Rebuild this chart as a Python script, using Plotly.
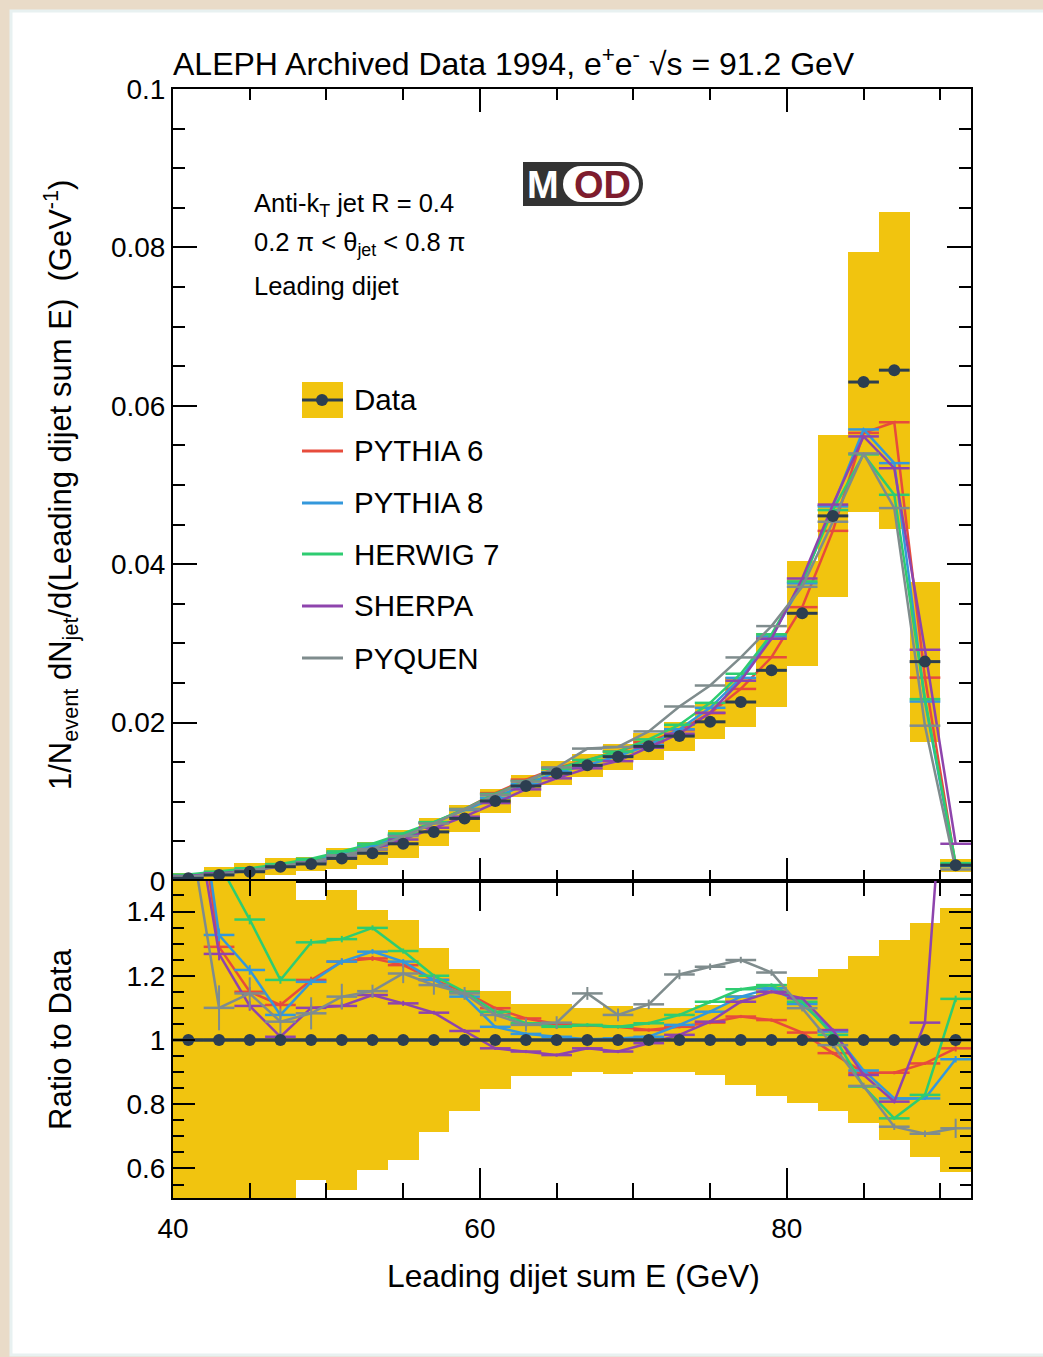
import plotly.graph_objects as go

W, H = 1043, 1357

# ---------------- data ----------------
bin_centers = [41, 43, 45, 47, 49, 51, 53, 55, 57, 59, 61, 63, 65, 67, 69,
               71, 73, 75, 77, 79, 81, 83, 85, 87, 89, 91]
bin_half_width = 1.0

data_values = [0.00034, 0.00076, 0.00117, 0.0018, 0.00215, 0.00285, 0.0035,
               0.0047, 0.0062, 0.0079, 0.0101, 0.0120, 0.0136, 0.0146, 0.0157,
               0.0170, 0.0183, 0.0201, 0.0226, 0.0266, 0.0338, 0.0461, 0.0630,
               0.0645, 0.0277, 0.0020]

data_rel_unc = [1.85, 1.40, 0.90, 0.60, 0.435, 0.467, 0.405, 0.375, 0.285,
                0.22, 0.152, 0.113, 0.113, 0.100, 0.105, 0.100, 0.100, 0.110,
                0.140, 0.175, 0.195, 0.222, 0.260, 0.310, 0.365, 0.410]

ratio_pythia6 = [1.97, 1.29, 1.15, 1.109, 1.187, 1.244, 1.254, 1.233, 1.187,
                 1.15, 1.099, 1.067, 1.05, 1.045, 1.041, 1.031, 1.041, 1.054,
                 1.073, 1.062, 1.023, 0.959, 0.898, 0.898, 0.927, 0.974]
ratio_pythia8 = [2.0, 1.327, 1.218, 1.078, 1.181, 1.244, 1.275, 1.244, 1.187,
                 1.135, 1.041, 1.019, 1.01, 1.002, 1.005, 1.01, 1.047, 1.088,
                 1.135, 1.161, 1.112, 1.026, 0.905, 0.818, 0.818, 0.94]
ratio_herwig7 = [2.4, 1.55, 1.375, 1.187, 1.304, 1.314, 1.349, 1.277, 1.2,
                 1.15, 1.088, 1.052, 1.041, 1.047, 1.041, 1.052, 1.078, 1.119,
                 1.158, 1.171, 1.119, 1.016, 0.855, 0.756, 0.829, 1.128]
ratio_sherpa = [1.84, 1.268, 1.106, 1.01, 1.10, 1.106, 1.14, 1.114, 1.085,
                1.028, 0.974, 0.964, 0.953, 0.974, 0.964, 0.99, 1.016, 1.057,
                1.119, 1.150, 1.13, 1.031, 0.891, 0.808, 1.054, 2.35]
ratio_pyquen = [1.68, 1.10, 1.145, 1.057, 1.083, 1.135, 1.152, 1.207, 1.171,
                1.145, 1.078, 1.047, 1.054, 1.145, 1.078, 1.111, 1.204, 1.228,
                1.249, 1.21, 1.099, 0.984, 0.857, 0.73, 0.708, 0.725]

err_pyquen = [0.10, 0.07, 0.05, 0.04, 0.05, 0.04, 0.02, 0.03, 0.03, 0.02,
              0.02, 0.02, 0.02, 0.02, 0.02, 0.015, 0.015, 0.01, 0.01, 0.01,
              0.01, 0.01, 0.01, 0.01, 0.01, 0.03]
err_generators = [0.05, 0.02, 0.015, 0.012, 0.01, 0.01, 0.008, 0.008, 0.006,
                  0.006, 0.005, 0.005, 0.005, 0.005, 0.005, 0.005, 0.005,
                  0.005, 0.005, 0.005, 0.005, 0.005, 0.005, 0.005, 0.005, 0.01]

model_names = ["PYTHIA 6", "PYTHIA 8", "HERWIG 7", "SHERPA", "PYQUEN"]
model_colors = ["#E74C3C", "#3498DB", "#2ECC71", "#8E44AD", "#7F8C8D"]
model_ratios = [ratio_pythia6, ratio_pythia8, ratio_herwig7, ratio_sherpa, ratio_pyquen]
model_errs = [err_generators, err_generators, err_generators, err_generators, err_pyquen]

x_ticks = [40, 60, 80]
top_y_ticks = [0, 0.02, 0.04, 0.06, 0.08, 0.1]
ratio_y_ticks = [0.6, 0.8, 1.0, 1.2, 1.4]

DATA_COLOR = "#2C3E50"
BAND_COLOR = "#F1C40F"
FONT = "Liberation Sans, Arial, Helvetica, sans-serif"


def pxx(x):
    return x / W


def pxy(y):
    return 1 - y / H


fig = go.Figure()

# ---- uncertainty bands ----
band_lo = [d * (1 - r) for d, r in zip(data_values, data_rel_unc)]
band_h = [2 * d * r for d, r in zip(data_values, data_rel_unc)]
fig.add_trace(go.Bar(x=bin_centers, y=band_h, base=band_lo, width=2 * bin_half_width,
                     marker=dict(color=BAND_COLOR, line=dict(width=0)),
                     xaxis="x", yaxis="y", showlegend=False, hoverinfo="skip"))
fig.add_trace(go.Bar(x=bin_centers, y=[2 * r for r in data_rel_unc],
                     base=[1 - r for r in data_rel_unc], width=2 * bin_half_width,
                     marker=dict(color=BAND_COLOR, line=dict(width=0)),
                     xaxis="x2", yaxis="y2", showlegend=False, hoverinfo="skip"))

# ---- generators ----
for name, col, rat, err in zip(model_names, model_colors, model_ratios, model_errs):
    mc = [d * r for d, r in zip(data_values, rat)]
    fig.add_trace(go.Scatter(
        x=bin_centers, y=mc, mode="lines", name=name,
        line=dict(color=col, width=2.5),
        error_x=dict(type="constant", value=bin_half_width, width=0, thickness=2.5, color=col),
        xaxis="x", yaxis="y", showlegend=False))
    fig.add_trace(go.Scatter(
        x=bin_centers, y=rat, mode="lines", name=name,
        line=dict(color=col, width=2.5),
        error_x=dict(type="constant", value=bin_half_width, width=0, thickness=2.5, color=col),
        error_y=dict(type="data", array=err, width=0, thickness=2, color=col),
        xaxis="x2", yaxis="y2", showlegend=False))

# ---- data ----
fig.add_trace(go.Scatter(
    x=bin_centers, y=data_values, mode="markers", name="Data",
    marker=dict(color=DATA_COLOR, size=12),
    error_x=dict(type="constant", value=bin_half_width, width=0, thickness=3, color=DATA_COLOR),
    xaxis="x", yaxis="y", showlegend=False))
fig.add_trace(go.Scatter(
    x=bin_centers, y=[d / d for d in data_values], mode="lines+markers", name="Data",
    marker=dict(color=DATA_COLOR, size=12),
    line=dict(color=DATA_COLOR, width=3),
    error_x=dict(type="constant", value=bin_half_width, width=0, thickness=3, color=DATA_COLOR),
    xaxis="x2", yaxis="y2", showlegend=False))

x_dom = [pxx(173), pxx(971)]
top_dom = [pxy(881), pxy(89)]
bot_dom = [pxy(1198), pxy(881)]

axis_common = dict(showline=True, linecolor="black", linewidth=2, mirror="allticks",
                   ticks="inside", tickcolor="black", showgrid=False, zeroline=False,
                   automargin=False,
                   tickfont=dict(size=28, color="black", family=FONT))

fig.update_layout(
    width=W, height=H, autosize=False,
    margin=dict(l=0, r=0, t=0, b=0, pad=0, autoexpand=False),
    paper_bgcolor="#E9DBC8",
    plot_bgcolor="rgba(0,0,0,0)",
    font=dict(family=FONT, color="black", size=28),
    barmode="overlay",
    bargap=0,
    xaxis=dict(domain=x_dom, range=[40, 92], anchor="y", showticklabels=False,
               tickvals=x_ticks, ticklen=23, tickwidth=2,
               minor=dict(dtick=5, tick0=40, ticklen=11, ticks="inside", tickcolor="black", tickwidth=1.5),
               **axis_common),
    yaxis=dict(domain=top_dom, range=[0, 0.1], anchor="x",
               tickvals=top_y_ticks, ticktext=["0", "0.02", "0.04", "0.06", "0.08", "0.1"],
               ticklen=24, tickwidth=2,
               minor=dict(dtick=0.005, tick0=0, ticklen=12, ticks="inside", tickcolor="black", tickwidth=1.5),
               **axis_common),
    xaxis2=dict(domain=x_dom, range=[40, 92], anchor="y2", matches="x",
                tickvals=x_ticks, ticktext=["40", "60", "80"], ticklen=30, tickwidth=2,
                ticklabelstandoff=4,
                minor=dict(dtick=5, tick0=40, ticklen=15, ticks="inside", tickcolor="black", tickwidth=1.5),
                **axis_common),
    yaxis2=dict(domain=bot_dom, range=[0.508, 1.495], anchor="x2",
                tickvals=ratio_y_ticks, ticktext=["0.6", "0.8", "1", "1.2", "1.4"],
                ticklen=22, tickwidth=2,
                minor=dict(dtick=0.05, tick0=0.5, ticklen=11, ticks="inside", tickcolor="black", tickwidth=1.5),
                **axis_common),
)

shapes = []
# white card
shapes.append(dict(type="rect", xref="paper", yref="paper", layer="below",
                   x0=pxx(11), x1=pxx(1045), y0=pxy(1355), y1=pxy(11),
                   fillcolor="white", line=dict(color="#E8F1F1", width=3)))

# MOD logo
shapes.append(dict(type="rect", xref="paper", yref="paper", x0=pxx(523), x1=pxx(621),
                   y0=pxy(206), y1=pxy(162), fillcolor="#333333", line=dict(width=0)))
shapes.append(dict(type="circle", xref="paper", yref="paper", x0=pxx(599), x1=pxx(643),
                   y0=pxy(206), y1=pxy(162), fillcolor="#333333", line=dict(width=0)))
shapes.append(dict(type="rect", xref="paper", yref="paper", x0=pxx(580), x1=pxx(622),
                   y0=pxy(202), y1=pxy(166), fillcolor="white", line=dict(width=0)))
shapes.append(dict(type="circle", xref="paper", yref="paper", x0=pxx(563), x1=pxx(599),
                   y0=pxy(202), y1=pxy(166), fillcolor="white", line=dict(width=0)))
shapes.append(dict(type="circle", xref="paper", yref="paper", x0=pxx(603), x1=pxx(639),
                   y0=pxy(202), y1=pxy(166), fillcolor="white", line=dict(width=0)))

# legend samples
shapes.append(dict(type="rect", xref="paper", yref="paper", x0=pxx(302), x1=pxx(343),
                   y0=pxy(418), y1=pxy(382), fillcolor=BAND_COLOR, line=dict(width=0)))
shapes.append(dict(type="line", xref="paper", yref="paper", x0=pxx(302), x1=pxx(343),
                   y0=pxy(400), y1=pxy(400), line=dict(color=DATA_COLOR, width=3)))
shapes.append(dict(type="circle", xref="paper", yref="paper", x0=pxx(316), x1=pxx(328),
                   y0=pxy(406), y1=pxy(394), fillcolor=DATA_COLOR, line=dict(width=0)))
legend_y = [451, 503, 554, 606, 658]
for ly, col in zip(legend_y, model_colors):
    shapes.append(dict(type="line", xref="paper", yref="paper", x0=pxx(302), x1=pxx(343),
                       y0=pxy(ly), y1=pxy(ly), line=dict(color=col, width=3)))

annotations = []


def ann(text, x, y, size, xanchor="left", angle=0, color="black", bold=False):
    annotations.append(dict(text=("<b>%s</b>" % text) if bold else text,
                            xref="paper", yref="paper", x=pxx(x), y=pxy(y),
                            xanchor=xanchor, yanchor="middle", showarrow=False,
                            textangle=angle, font=dict(size=size, color=color, family=FONT)))


for ly, name in zip([400] + legend_y, ["Data"] + model_names):
    ann(name, 352, ly, 29.5)

ann("ALEPH Archived Data 1994, e<sup>+</sup>e<sup>-</sup> √s = 91.2 GeV", 171, 62, 32)
ann("Anti-k<sub>T</sub> jet R = 0.4", 252, 205, 25.5)
ann("0.2 π < θ<sub>jet</sub> < 0.8 π", 252, 244, 25.5)
ann("Leading dijet", 252, 286, 25.5)
ann("M", 543, 185, 38, xanchor="center", color="white", bold=True)
ann("OD", 602, 185, 38, xanchor="center", color="#7E1C2E", bold=True)

ann("1/N<sub>event</sub> dN<sub>jet</sub>/d(Leading dijet sum E)  (GeV<sup>-1</sup>)",
    60, 485, 31, xanchor="center", angle=-90)
ann("Ratio to Data", 60, 1039, 31, xanchor="center", angle=-90)
ann("Leading dijet sum E (GeV)", 573, 1276, 31.8, xanchor="center")

fig.update_layout(shapes=shapes, annotations=annotations)

fig.write_html(
    "out.html",
    config={"responsive": False, "displayModeBar": False},
    post_script="document.documentElement.style.margin='0';"
                "document.body.style.margin='0';"
                "document.body.style.padding='0';"
                "document.body.style.overflow='hidden';",
)
